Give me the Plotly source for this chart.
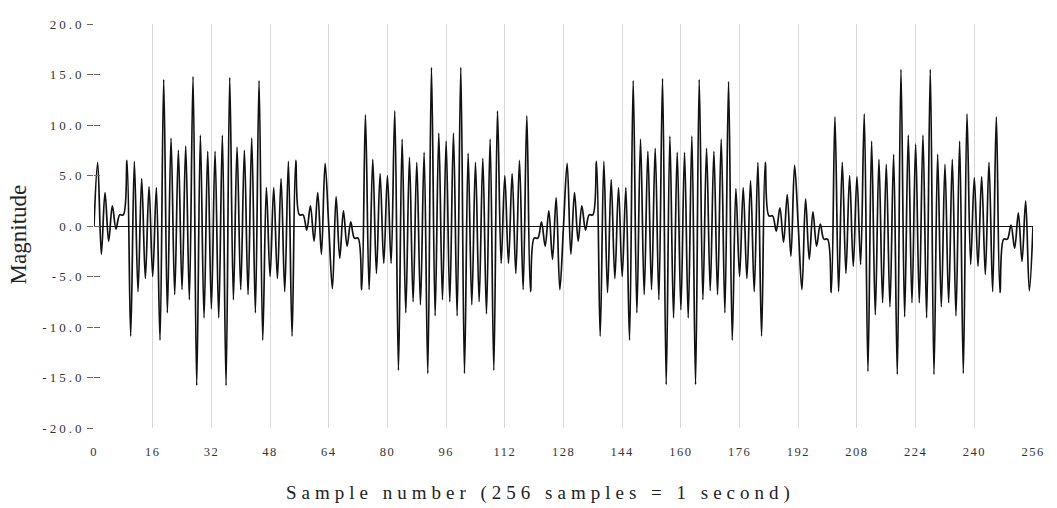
import plotly.graph_objects as go

# Sampled signal, one value per sample (256 samples = 1 second), in four blocks
mag_000_063 = [
    0.0, 6.3, -2.8, 3.3, -1.5, 2.0, -0.3, 1.1, 1.1, 6.5,
    -10.9, 6.4, -6.5, 4.7, -5.2, 3.9, -5.0, 3.8, -11.3, 14.5,
    -8.6, 8.7, -6.8, 7.5, -6.3, 7.9, -7.3, 14.8, -15.8, 9.0,
    -9.1, 7.4, -8.2, 7.4, -9.1, 9.0, -15.8, 14.7, -7.3, 7.8,
    -6.3, 7.5, -6.8, 8.7, -8.6, 14.4, -11.3, 3.8, -5.0, 3.8,
    -5.2, 4.7, -6.5, 6.4, -10.9, 6.5, 1.1, 1.1, -0.4, 2.0,
    -1.5, 3.3, -2.8, 6.2,
]
mag_064_127 = [
    0.0, -6.2, 2.9, -3.2, 1.5, -2.0, 0.4, -1.2, -1.2, -6.3,
    11.0, -6.3, 6.6, -4.7, 5.2, -3.7, 5.0, -3.7, 11.4, -14.3,
    8.6, -8.6, 6.8, -7.5, 6.3, -7.8, 7.3, -14.6, 15.7, -8.9,
    9.2, -7.3, 8.4, -7.5, 9.2, -8.9, 15.7, -14.6, 7.2, -7.8,
    6.3, -7.5, 6.7, -8.7, 8.6, -14.3, 11.4, -3.7, 5.0, -3.7,
    5.2, -4.7, 6.5, -6.3, 10.9, -6.5, -1.2, -1.2, 0.4, -2.0,
    1.5, -3.3, 2.8, -6.3,
]
mag_128_191 = [
    0.0, 6.2, -2.8, 3.3, -1.5, 2.0, -0.4, 1.1, 1.1, 6.4,
    -10.9, 6.4, -6.6, 4.6, -5.2, 3.8, -5.0, 3.8, -11.3, 14.4,
    -8.6, 8.6, -6.8, 7.4, -6.3, 7.7, -7.3, 14.6, -15.7, 8.9,
    -9.1, 7.3, -8.3, 7.3, -9.1, 8.9, -15.7, 14.5, -7.3, 7.7,
    -6.4, 7.4, -6.8, 8.6, -8.6, 14.3, -11.3, 3.7, -5.0, 3.8,
    -5.2, 4.5, -6.5, 6.3, -10.9, 6.3, 1.0, 1.0, -0.5, 1.8,
    -1.6, 3.1, -3.0, 6.0,
]
mag_192_256 = [
    0.0, -6.3, 2.7, -3.3, 1.4, -2.0, 0.2, -1.3, -1.3, -6.6,
    10.8, -6.5, 6.3, -4.7, 5.0, -4.0, 4.9, -3.8, 11.1, -14.4,
    8.4, -8.8, 6.6, -7.6, 6.1, -8.0, 7.1, -14.7, 15.5, -9.0,
    9.0, -7.6, 8.1, -7.6, 9.0, -9.1, 15.5, -14.7, 7.1, -8.0,
    6.1, -7.6, 6.6, -8.9, 8.4, -14.6, 11.1, -3.8, 4.8, -4.0,
    4.9, -4.8, 6.3, -6.5, 10.8, -6.6, -1.3, -1.3, 0.1, -2.2,
    1.3, -3.5, 2.5, -6.4, 0.0,
]

magnitude = mag_000_063 + mag_064_127 + mag_128_191 + mag_192_256
sample_number = list(range(len(magnitude)))

x_tick_values = list(range(0, 257, 16))
y_tick_values = [-20, -15, -10, -5, 0, 5, 10, 15, 20]

x_title = "Sample number (256 samples = 1 second)"
y_title = "Magnitude"

SERIF = "Liberation Serif, Times New Roman, serif"


def spaced(text, px):
    return f'<span style="letter-spacing:{px}px">{text}</span>'


x_tick_text = [spaced(str(v), 1.5) for v in x_tick_values]
y_tick_text = [spaced(f"{v:.1f}", 3.0) for v in y_tick_values]

fig = go.Figure()
fig.add_trace(go.Scatter(
    x=sample_number, y=magnitude, mode="lines",
    line=dict(color="#111111", width=1.7, shape="spline", smoothing=1.0),
    hoverinfo="skip", showlegend=False,
))
# companion axis that carries the inner half of the y tick marks
fig.add_trace(go.Scatter(x=[], y=[], yaxis="y2", showlegend=False))

fig.update_layout(
    width=1057, height=508,
    margin=dict(l=94, r=20, t=24, b=80),
    paper_bgcolor="white", plot_bgcolor="white",
    font=dict(family=SERIF, color="#222"),
    xaxis=dict(
        range=[0, 256], tickmode="array",
        tickvals=x_tick_values, ticktext=x_tick_text,
        showgrid=True, gridcolor="#d8d8d8", gridwidth=1,
        zeroline=False, showline=False, ticks="",
        ticklabelstandoff=14,
        tickfont=dict(family=SERIF, size=12.5, color="#333"),
    ),
    yaxis=dict(
        range=[-20, 20], tickmode="array",
        tickvals=y_tick_values, ticktext=y_tick_text,
        ticks="outside", ticklen=6, tickcolor="#666", tickwidth=1,
        showgrid=False, showline=False,
        zeroline=True, zerolinecolor="#111", zerolinewidth=1.2,
        ticklabelstandoff=0,
        tickfont=dict(family=SERIF, size=13, color="#333"),
    ),
    yaxis2=dict(
        range=[-20, 20], overlaying="y", side="left", tickmode="array",
        tickvals=y_tick_values, ticks="inside", ticklen=6, tickcolor="#666",
        tickwidth=1, showticklabels=False, showgrid=False, zeroline=False,
        showline=False,
    ),
    annotations=[
        dict(text=spaced(x_title, 5.0), xref="paper", yref="paper",
             x=0.475, y=-0.161, xanchor="center", yanchor="middle",
             showarrow=False, font=dict(family=SERIF, size=19, color="#222")),
        dict(text=y_title, xref="paper", yref="paper", textangle=-90,
             x=-0.0806, y=0.48, xanchor="center", yanchor="middle",
             showarrow=False, font=dict(family=SERIF, size=23, color="#222")),
    ],
)

fig.write_html("out.html")
